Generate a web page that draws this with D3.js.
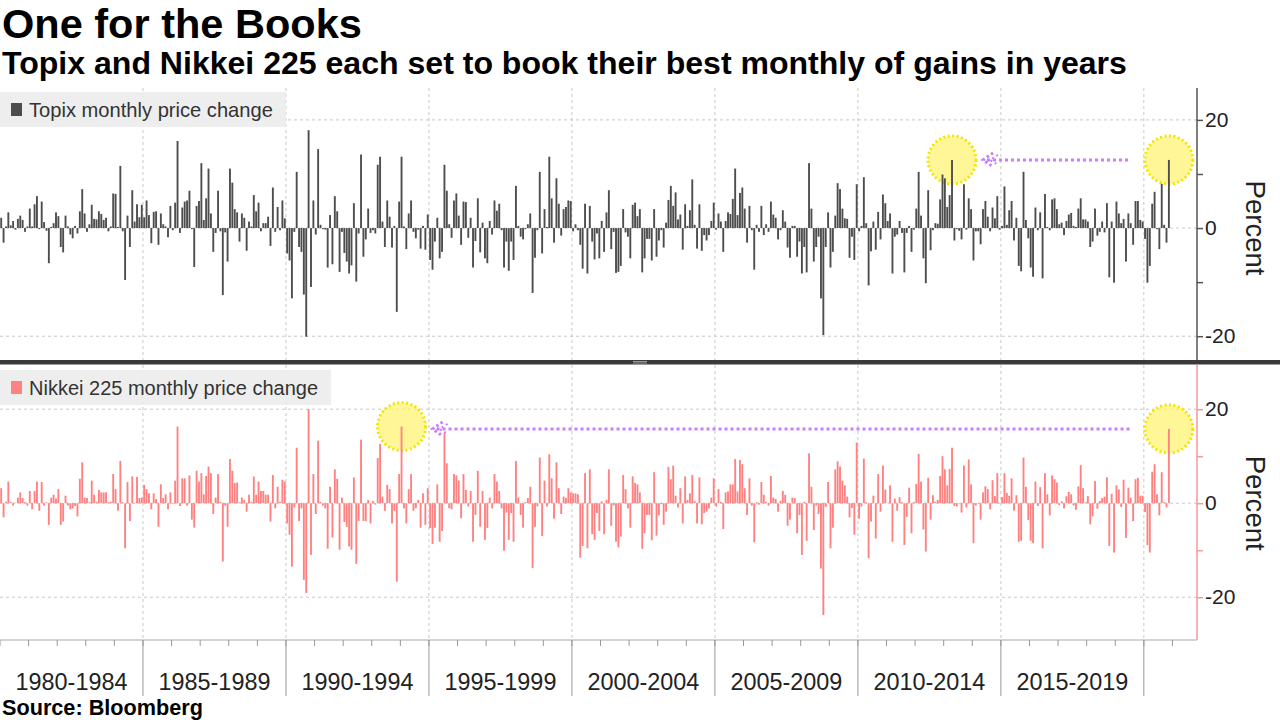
<!DOCTYPE html>
<html><head><meta charset="utf-8">
<script src="https://cdn.jsdelivr.net/npm/d3@7"></script>
<style>body{margin:0;background:#fff}svg{display:block}</style>
</head><body>
<svg id="c" width="1280" height="720"></svg>
<script>
// ---------------- DATA ----------------
const startYear = 1980;
const periods = ["1980-1984","1985-1989","1990-1994","1995-1999","2000-2004","2005-2009","2010-2014","2015-2019"];
const yTickValues = [-20,-10,0,10,20];
const yTickLabels = [-20,0,20];
const titleText = "One for the Books";
const subtitleText = "Topix and Nikkei 225 each set to book their best monthly of gains in years";
const sourceText = "Source: Bloomberg";
const topixLabel = "Topix monthly price change";
const nikkeiLabel = "Nikkei 225 monthly price change";
// month indices (from Jan 1980) that are highlighted
const topixHighlights = [399, 490];   // Apr 2013, Nov 2020
const nikkeiHighlights = [168, 490];  // Jan 1994, Nov 2020

// Topix monthly % change, Jan 1980 - Nov 2020
const topix = [
 1.9,-2.7,0.3,2.9,0.5,1.3,-0.3,1.7,2.3,1.5,-0.7,0.3,          // 1980
 3.6,0.3,4.4,5.9,-0.2,4.9,1.1,-0.5,-6.5,0.2,0.9,2.9,          // 1981
 2.2,-3.5,-4.5,2.3,0.3,-1.2,-1.9,0.4,-1.0,3.1,7.2,2.7,        // 1982
 -0.7,0.7,4.3,1.7,1.6,3.1,2.6,1.5,1.9,-0.6,0.3,6.4,           // 1983
 6.3,0.2,11.5,-0.6,-9.6,2.3,-3.5,7.0,1.2,4.4,2.0,4.3,         // 1984
 2.0,5.1,2.4,-2.8,3.0,3.1,-3.1,2.7,0.7,0.3,-1.7,4.1,          // 1985
 -0.4,4.7,16.1,-0.9,3.8,4.9,5.1,6.9,-0.2,-7.2,4.1,5.0,        // 1986
 12.0,1.5,5.5,11.0,2.7,-4.4,-0.9,6.9,-0.6,-12.4,-0.8,-6.2,    // 1987
 11.0,8.4,3.5,2.9,-2.5,2.7,1.9,-4.2,1.2,0.3,6.1,3.1,          // 1988
 4.7,-0.6,0.9,0.9,2.1,-3.3,7.5,-0.7,3.9,-0.4,5.1,1.8,         // 1989
 -4.7,-6.0,-13.0,-0.7,10.4,-3.5,-4.4,-12.3,-20.1,18.1,-10.9,5.1, // 1990
 -1.2,14.6,0.6,-0.2,-0.3,-7.3,2.4,-6.7,5.9,3.1,-8.1,-0.7,     // 1991
 -4.6,-6.2,-8.4,-6.9,4.6,-9.9,-1.0,13.6,-5.3,-2.1,3.6,-0.9,   // 1992
 -0.4,-1.0,11.7,13.2,1.2,-3.5,5.1,2.1,-3.6,0.4,-15.5,4.9,     // 1993
 13.2,0.3,-3.9,2.7,5.1,-0.7,-1.9,-0.3,-3.8,0.4,-4.0,2.5,      // 1994
 -5.9,-7.7,-2.5,1.9,-5.6,-4.4,11.7,6.9,0.7,-1.8,5.1,6.4,      // 1995
 2.3,-3.1,4.9,4.8,-1.8,1.9,-7.3,-2.4,5.5,-4.5,1.0,-5.6,       // 1996
 -6.5,1.3,-1.2,5.1,3.2,4.5,-0.4,-7.3,-2.5,-7.9,-2.5,-5.9,     // 1997
 7.8,0.4,-1.6,-2.1,-0.2,0.7,2.7,-12.0,-5.5,-0.4,10.4,-4.7,    // 1998
 3.5,0.2,13.2,5.5,-2.7,9.2,4.5,-1.4,3.5,3.9,5.1,5.0,          // 1999
 -0.6,0.7,-0.4,-3.1,-7.5,4.5,-8.4,4.1,-2.5,-5.8,-1.0,-5.6,    // 2000
 1.3,-4.4,2.9,7.0,-3.9,-0.7,-8.3,-8.1,-7.0,3.5,-0.8,-1.6,     // 2001
 -5.6,4.3,4.7,2.2,3.5,-8.2,-5.6,-2.0,-2.0,-6.0,3.5,-5.3,      // 2002
 -2.3,-0.4,-3.6,1.0,5.2,7.8,4.1,6.6,1.6,2.5,-4.0,4.4,         // 2003
 0.4,3.3,9.0,0.6,-3.8,4.4,-4.2,-1.3,-2.3,-1.3,1.3,4.7,        // 2004
 -0.3,2.7,1.2,-4.4,1.3,2.9,2.6,5.4,11.0,2.4,6.5,7.5,          // 2005
 3.6,-2.7,4.1,-0.4,-7.7,0.6,-0.7,4.1,-1.3,0.7,-0.7,4.9,       // 2006
 2.5,1.9,-2.1,-0.4,3.3,1.2,-3.6,-5.5,0.4,0.4,-5.3,-2.5,       // 2007
 -8.4,-3.5,-8.2,12.0,3.6,-6.2,-3.5,-1.6,-13.0,-19.8,-3.5,2.9, // 2008
 -7.3,-4.4,2.3,8.3,7.2,3.6,1.8,1.7,-5.5,-1.6,-5.9,8.1,        // 2009
 -0.6,0.4,9.4,0.9,-10.6,-4.3,1.2,-4.0,3.0,-2.1,6.2,4.6,       // 2010
 1.3,2.7,-8.4,-1.6,-1.2,1.3,-0.9,-8.2,-0.9,0.4,-4.4,-0.3,     // 2011
 3.6,10.4,2.3,-5.6,-10.2,7.0,-4.1,-0.4,0.9,0.8,5.3,9.9,       // 2012
 9.2,3.9,6.1,12.6,-2.3,-0.2,-0.5,-2.1,8.1,-0.3,5.5,3.5,       // 2013
 -6.0,-0.6,-0.6,-3.0,3.5,5.0,2.1,-0.6,3.8,1.8,5.9,-0.3,       // 2014
 0.4,7.7,0.6,3.3,5.0,-2.3,1.9,-7.0,-8.0,10.4,1.5,-1.9,        // 2015
 -7.3,-9.0,3.8,-0.4,2.9,-9.3,6.3,0.2,-0.4,5.3,5.5,3.5,        // 2016
 0.7,1.0,-1.3,1.3,2.5,2.8,0.4,0.2,3.6,5.5,1.6,1.6,            // 2017
 1.2,-3.5,-2.5,3.6,-1.4,-0.7,1.2,-0.8,4.6,-9.1,1.2,-10.1,     // 2018
 4.9,2.7,0.9,1.7,-6.2,2.7,0.9,-3.1,5.0,5.0,1.5,1.2,           // 2019
 -2.0,-10.1,-7.0,4.5,6.7,-0.2,-3.9,8.2,0.6,-2.7,12.6          // 2020
];

// Nikkei 225 monthly % change, Jan 1980 - Nov 2020
const nikkei = [
 3.2,-3.0,0.3,4.6,0.3,-0.5,0.1,1.2,2.3,1.1,0.2,-0.5,          // 1980
 2.6,-1.3,2.6,4.6,-1.6,4.5,-0.5,0.2,-4.6,1.2,1.8,1.0,         // 1981
 3.0,-4.6,-3.9,1.6,-0.5,-1.3,-1.1,-0.6,-2.8,5.2,8.7,1.2,      // 1982
 1.1,0.2,4.8,1.8,0.3,2.8,2.3,2.3,2.3,0.2,0.3,6.2,             // 1983
 3.0,-1.6,9.0,0.2,-9.6,4.5,-3.8,5.7,0.1,5.6,1.1,1.2,          // 1984
 3.9,3.0,2.1,-1.3,2.1,0.9,-5.0,4.0,1.1,1.9,-1.3,2.3,          // 1985
 -0.2,4.8,16.3,-0.6,5.3,5.3,-0.5,5.9,-3.5,-5.2,6.9,4.6,       // 1986
 6.4,1.9,5.8,7.8,6.4,-2.3,1.2,6.2,0.3,-12.4,-0.5,-5.0,        // 1987
 9.4,6.9,4.3,4.4,0.2,1.2,0.7,-1.8,1.8,0.3,5.7,1.8,            // 1988
 4.6,2.6,2.6,1.8,1.8,-3.9,6.0,-1.1,3.5,0.3,5.0,4.6,           // 1989
 -4.3,-6.7,-13.5,-0.9,11.8,-3.8,-1.1,-16.3,-19.1,20.0,-11.0,6.2, // 1990
 -2.3,13.3,0.3,-0.5,-1.1,-9.7,3.5,-7.3,7.2,5.2,-9.9,1.2,      // 1991
 -4.0,-5.0,-9.2,-9.9,5.5,-12.9,-3.8,13.5,-3.8,-3.8,0.7,-4.3,  // 1992
 0.5,-0.3,9.6,12.6,1.4,-1.6,3.9,3.0,-4.3,-1.6,-16.7,6.2,      // 1993
 16.3,-1.1,-4.3,3.0,6.2,-1.6,-1.1,0.7,-5.2,2.1,-4.6,3.2,      // 1994
 -5.3,-8.7,-5.2,4.0,-8.2,-5.9,14.9,8.5,-1.1,-1.3,6.2,5.9,     // 1995
 4.8,-3.2,6.2,2.8,-0.7,2.6,-8.2,-2.5,6.9,-5.0,2.6,-7.8,       // 1996
 -5.3,1.2,-1.1,6.2,4.6,2.6,-1.1,-10.1,-2.0,-7.8,-2.1,-8.2,    // 1997
 9.0,1.2,-2.5,-5.2,0.2,1.1,3.5,-13.8,-5.0,-0.7,9.7,-7.0,      // 1998
 4.8,-0.7,10.4,5.3,-3.3,8.7,3.2,-2.3,1.4,1.1,3.2,2.3,         // 1999
 2.1,2.1,1.9,-11.6,-9.1,6.4,-9.6,7.2,-6.6,-7.8,-2.1,-5.9,     // 2000
 0.4,-6.6,0.7,7.2,-4.8,-0.5,-8.2,-9.4,-7.1,6.0,3.0,-1.1,      // 2001
 -5.2,5.7,4.3,4.0,2.3,-9.7,-6.4,-2.5,-2.5,-7.9,6.6,-6.9,      // 2002
 -2.6,-0.2,-4.6,-1.8,7.7,5.1,8.0,1.6,-0.9,3.2,-4.3,5.7,       // 2003
 0.7,2.1,6.0,0.5,-4.3,5.5,-4.5,-2.1,-1.8,-1.1,1.2,5.3,        // 2004
 -0.7,3.0,0.3,-5.5,2.3,2.5,4.0,4.0,9.4,2.5,9.2,8.3,           // 2005
 3.2,-2.5,5.3,-0.5,-8.3,0.2,-0.3,4.5,1.8,0.3,-0.5,5.8,        // 2006
 1.2,0.9,-1.8,0.5,2.6,1.8,-4.8,-3.5,1.2,1.1,-6.4,-2.5,        // 2007
 -11.0,0.3,-8.0,10.6,3.5,-5.7,-0.5,-2.3,-13.9,-23.8,-0.8,4.5, // 2008
 -9.6,-5.2,7.2,8.9,7.8,4.8,3.8,1.4,-3.0,-1.0,-6.7,12.9,       // 2009
 -3.3,-0.7,9.5,0.2,-11.7,-3.9,1.6,-7.5,6.2,-1.8,8.0,2.9,      // 2010
 0.1,3.8,-8.2,1.0,-1.6,1.3,0.2,-8.9,-2.9,3.3,-6.4,0.2,        // 2011
 4.1,10.5,4.6,-5.6,-10.3,5.4,-3.5,1.7,0.3,0.7,5.8,10.0,       // 2012
 7.2,3.8,7.3,11.8,-0.6,-0.7,-0.1,-2.0,8.0,-0.9,9.3,4.0,       // 2013
 -8.5,-0.5,-0.1,-3.5,2.3,3.6,3.0,-1.3,4.9,1.5,6.4,-0.1,       // 2014
 1.3,6.4,2.2,1.6,5.3,-1.6,1.7,-8.2,-8.0,9.7,3.5,-3.6,         // 2015
 -8.0,-8.5,4.6,-0.6,3.4,-9.6,6.4,1.9,-2.6,5.9,5.1,4.4,        // 2016
 -0.4,0.4,-1.1,1.5,2.4,1.9,-0.5,-1.4,3.6,8.1,3.2,0.2,         // 2017
 1.5,-4.5,-2.8,4.7,-1.2,0.5,1.1,1.4,5.5,-9.1,2.0,-10.5,       // 2018
 3.8,2.9,-0.8,5.0,-7.4,3.3,1.2,-3.8,5.1,5.4,1.6,1.6,          // 2019
 -1.9,-8.9,-10.5,6.7,8.3,1.9,-2.6,6.6,0.2,-0.9,15.8           // 2020
];

// ---------------- CHART ----------------
const FONT = "'Liberation Sans', Arial, sans-serif";
const svg = d3.select('#c');
const plotRight = 1197;
const x = d3.scaleLinear().domain([0, 502.3]).range([0, plotRight]);
const bw = x(1) - x(0);
const yTop = d3.scaleLinear().domain([-24.4, 25.9]).range([360, 88]);
const yBot = d3.scaleLinear().domain([-29.1, 29.4]).range([640, 365]);

function fit(sel, w) {
  const n = sel.node();
  const cur = n.getComputedTextLength();
  const fs = parseFloat(sel.attr('font-size'));
  sel.attr('font-size', (fs * w / cur).toFixed(2));
  return sel;
}

function panel(cfg) {
  const {values, y, color, axisColor, top, bottom, label, labelW, boxW, legendY, hl} = cfg;
  const g = svg.append('g');
  // horizontal grid
  g.selectAll('line.hg').data(yTickLabels).join('line')
    .attr('x1', 0).attr('x2', plotRight)
    .attr('y1', d => y(d)).attr('y2', d => y(d))
    .attr('stroke', '#c8c8c8').attr('stroke-width', 1).attr('stroke-dasharray', '3,3');
  // vertical grid at period boundaries
  g.selectAll('line.vg').data(d3.range(1, periods.length + 1)).join('line')
    .attr('x1', d => x(d * 60)).attr('x2', d => x(d * 60))
    .attr('y1', top).attr('y2', bottom)
    .attr('stroke', '#c8c8c8').attr('stroke-width', 1).attr('stroke-dasharray', '3,3');
  // legend
  g.append('rect').attr('x', 0).attr('y', legendY).attr('width', boxW).attr('height', 35)
    .attr('fill', '#ececec').attr('fill-opacity', 0.9);
  g.append('rect').attr('x', 11).attr('y', legendY + 11).attr('width', 11).attr('height', 13)
    .attr('fill', color);
  const lt = g.append('text').attr('x', 29).attr('y', legendY + 25)
    .attr('font-family', FONT).attr('font-size', 20).attr('fill', '#333').text(label);
  fit(lt, labelW);
  // highlight circles
  const r = 24;
  g.selectAll('circle.hl').data(hl).join('circle')
    .attr('cx', d => x(d + 0.5)).attr('cy', d => y(values[d]))
    .attr('r', r).attr('fill', '#fff36b').attr('fill-opacity', 0.7)
    .attr('stroke', '#f2e600').attr('stroke-width', 3).attr('stroke-dasharray', '2,2.5');
  // bars
  g.selectAll('rect.bar').data(values).join('rect')
    .attr('x', (d, i) => x(i) + 0.25)
    .attr('width', bw - 0.5)
    .attr('y', d => y(Math.max(0, d)))
    .attr('height', d => Math.abs(y(d) - y(0)))
    .attr('fill', color);
  // arrow (from right highlight toward left highlight)
  const ay = y(values[hl[1]]);
  const tip = x(hl[0] + 0.5) + r + 7;
  const tail = x(hl[1] + 0.5) - r - 15;
  const ac = '#cc7cff';
  g.append('line').attr('x1', tip + 4).attr('x2', tail).attr('y1', ay).attr('y2', ay)
    .attr('stroke', ac).attr('stroke-width', 3).attr('stroke-dasharray', '3,3');
  g.append('path').attr('d', `M${tip + 10},${ay - 7} L${tip},${ay} L${tip + 10},${ay + 7}`)
    .attr('fill', 'none').attr('stroke', ac).attr('stroke-width', 3).attr('stroke-dasharray', '2.5,2.5');
  g.append('path').attr('d', `M${tip + 15},${ay - 5} L${tip + 7},${ay} L${tip + 15},${ay + 5}`)
    .attr('fill', 'none').attr('stroke', ac).attr('stroke-width', 2).attr('stroke-dasharray', '2,3');
  // right axis
  const ax = g.append('g').attr('transform', `translate(${plotRight},0)`)
    .call(d3.axisRight(y).tickValues(yTickValues).tickSize(6)
      .tickFormat(d => yTickLabels.includes(d) ? String(d) : ''));
  ax.select('.domain').attr('stroke', axisColor).attr('stroke-width', 1.5)
    .attr('d', `M0,${top}V${bottom}`);
  ax.selectAll('.tick line').attr('stroke', axisColor).attr('stroke-width', 1.5);
  ax.selectAll('.tick text').attr('font-family', FONT).attr('font-size', 21)
    .attr('fill', '#222').attr('x', 8);
  const pt = g.append('text')
    .attr('transform', `translate(1255,${y(0)}) rotate(90)`)
    .attr('text-anchor', 'middle').attr('dominant-baseline', 'central')
    .attr('font-family', FONT).attr('font-size', 26).attr('fill', '#222').text('Percent');
  fit(pt, 95);
}

panel({values: topix, y: yTop, color: '#4d4d4d', axisColor: '#555', top: 88, bottom: 360,
  label: topixLabel, labelW: 244, boxW: 286, legendY: 92, hl: topixHighlights});
panel({values: nikkei, y: yBot, color: '#ff8282', axisColor: '#f59a9a', top: 365, bottom: 640,
  label: nikkeiLabel, labelW: 289, boxW: 331, legendY: 370, hl: nikkeiHighlights});

// separator between panels
svg.append('rect').attr('x', 0).attr('y', 360).attr('width', 1280).attr('height', 4.5).attr('fill', '#3a3a3a');
svg.append('line').attr('x1', 633).attr('x2', 647).attr('y1', 361.5).attr('y2', 361.5).attr('stroke', '#999');
svg.append('line').attr('x1', 633).attr('x2', 647).attr('y1', 363).attr('y2', 363).attr('stroke', '#999');

// bottom x axis
const xa = svg.append('g');
xa.append('line').attr('x1', 0).attr('x2', plotRight).attr('y1', 640).attr('y2', 640).attr('stroke', '#aaa');
xa.selectAll('line.yt').data(d3.range(0, 42)).join('line')
  .attr('x1', d => x(d * 12)).attr('x2', d => x(d * 12)).attr('y1', 640).attr('y2', 646)
  .attr('stroke', '#999');
xa.selectAll('line.pt').data(d3.range(1, periods.length + 1)).join('line')
  .attr('x1', d => x(d * 60)).attr('x2', d => x(d * 60)).attr('y1', 640).attr('y2', 696)
  .attr('stroke', '#999');
const pl = xa.selectAll('text.pl').data(periods).join('text')
  .attr('x', (d, i) => x(i * 60 + 30)).attr('y', 690)
  .attr('text-anchor', 'middle').attr('font-family', FONT).attr('font-size', 22)
  .attr('fill', '#222').text(d => d);
{
  const first = pl.nodes()[0];
  const fs = 22 * 112 / first.getComputedTextLength();
  pl.attr('font-size', fs.toFixed(2));
}

// titles
fit(svg.append('text').attr('x', 2).attr('y', 38).attr('font-family', FONT).attr('font-weight', 'bold')
  .attr('font-size', 38).attr('fill', '#000').text(titleText), 360);
fit(svg.append('text').attr('x', 2).attr('y', 74).attr('font-family', FONT).attr('font-weight', 'bold')
  .attr('font-size', 26).attr('fill', '#000').text(subtitleText), 1125);
fit(svg.append('text').attr('x', 2).attr('y', 715).attr('font-family', FONT).attr('font-weight', 'bold')
  .attr('font-size', 20).attr('fill', '#000').text(sourceText), 201);
</script>
</body></html>
